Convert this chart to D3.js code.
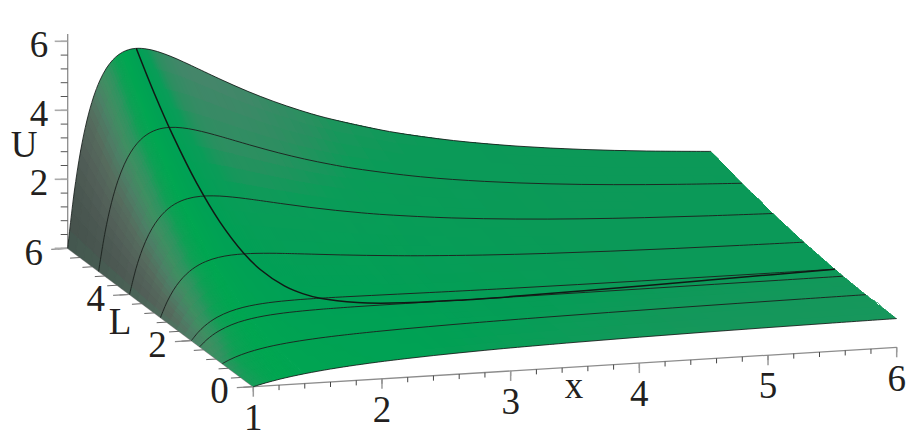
<!DOCTYPE html>
<html><head><meta charset="utf-8">
<style>html,body{margin:0;background:#fff}svg{display:block}text{font-family:"Liberation Serif",serif;fill:#231f20}</style>
<script src="https://cdn.jsdelivr.net/npm/d3@7"></script></head><body><div id="c"></div>
<script>
const xValues=[1,1.05,1.1,1.15,1.2,1.25,1.3,1.35,1.4,1.45,1.5,1.55,1.6,1.65,1.7,1.75,1.8,1.85,1.9,1.95,2,2.2,2.4,2.6,2.8,3,3.5,4,4.5,5,5.5,6];
const lValues=[0,1,1.732,2,3,4,5,6];
const uL0=[0,.048,.091,.13,.167,.2,.231,.259,.286,.31,.333,.355,.375,.394,.412,.429,.444,.459,.474,.487,.5,.545,.583,.615,.643,.667,.714,.75,.778,.8,.818,.833];
const uL1=[0,.091,.166,.229,.282,.328,.367,.402,.432,.458,.482,.503,.522,.539,.554,.569,.582,.594,.605,.615,.625,.658,.685,.706,.725,.741,.773,.797,.816,.832,.845,.857];
const uL173=[0,.177,.316,.426,.514,.584,.641,.686,.723,.753,.778,.798,.814,.828,.839,.848,.856,.862,.867,.872,.875,.884,.887,.889,.889,.889,.889,.891,.893,.896,.899,.903];
const uL2=[0,.22,.391,.525,.63,.712,.777,.828,.869,.901,.926,.946,.961,.973,.982,.988,.993,.997,.999,1,1,.996,.988,.98,.971,.963,.948,.938,.931,.928,.926,.926];
const uL3=[0,.436,.767,1.018,1.208,1.352,1.46,1.54,1.598,1.639,1.667,1.684,1.693,1.696,1.694,1.688,1.679,1.668,1.655,1.64,1.625,1.56,1.495,1.435,1.381,1.333,1.239,1.172,1.124,1.088,1.062,1.042];
const uL4=[0,.739,1.293,1.709,2.019,2.248,2.416,2.536,2.618,2.672,2.704,2.718,2.719,2.709,2.692,2.668,2.639,2.608,2.573,2.537,2.5,2.349,2.204,2.072,1.955,1.852,1.647,1.5,1.392,1.312,1.251,1.204];
const uL5=[0,1.127,1.969,2.596,3.06,3.4,3.645,3.816,3.93,4.001,4.037,4.047,4.037,4.011,3.974,3.927,3.874,3.816,3.754,3.69,3.625,3.363,3.115,2.891,2.693,2.519,2.172,1.922,1.738,1.6,1.495,1.412];
const uL6=[0,1.602,2.796,3.681,4.333,4.808,5.147,5.381,5.533,5.624,5.667,5.672,5.648,5.603,5.541,5.466,5.383,5.293,5.197,5.1,5,4.603,4.229,3.893,3.595,3.333,2.814,2.438,2.161,1.952,1.792,1.667];
const ridgeX=[1.5325,1.54,1.55,1.57,1.6,1.65,1.7,1.8,1.9,2,2.25,2.5,3,3.5,4,4.5,5,5.5,6];
const ridgeL=[6,5.445,4.9,4.196,3.578,3.013,2.688,2.324,2.124,2,1.837,1.768,1.732,1.75,1.789,1.837,1.89,1.945,2];
const ridgeU=[5.675,4.734,3.903,2.956,2.25,1.707,1.441,1.185,1.066,1,.926,.9,.889,.893,.9,.907,.914,.92,.926];
const xMajor=[1,2,3,4,5,6], lMajor=[0,2,4,6], uMajor=[0,2,4,6];
const xMinor=d3.range(1,6.01,.2), lMinor=d3.range(0,6.01,.4), uMinor=d3.range(0,6.01,.4);
const surface=[uL0,uL1,uL173,uL2,uL3,uL4,uL5,uL6];

const W=921,H=441;
const svg=d3.select("#c").append("svg").attr("width",W).attr("height",H);
const sxX=d3.scaleLinear().domain([1,6]).range([0,643.4]);
const syX=d3.scaleLinear().domain([1,6]).range([0,-39.4]);
const sxL=d3.scaleLinear().domain([0,6]).range([0,-185.6]);
const syL=d3.scaleLinear().domain([0,6]).range([0,-138.4]);
const syU=d3.scaleLinear().domain([0,6]).range([0,-207]);
const P=(x,l,u)=>[253.3+sxX(x)+sxL(l),386.7+syX(x)+syL(l)+syU(u)];

const shade=d3.scaleLinear()
 .domain([-.7,-.47,-.31,-.2,0,.15,.3,.45,.6,.8,1.0,1.2,1.47])
 .range(["#44866a","#44866a","#2b8f60","#0a9c58","#00a055","#00a651","#0fa055","#2f9460","#3f8f62","#4d7f66","#566c5e","#525f58","#434f4a"]);
const farShade=d3.scaleLinear().domain([2.4,4.5]).range([0,.85]).clamp(true);
const nx=xValues.length,nl=lValues.length;
const theta=[],slopeL=[];
for(let j=0;j<nl;j++){theta.push([]);slopeL.push([]);for(let i=0;i<nx;i++){
  const a=Math.max(0,i-1),b=Math.min(nx-1,i+1);
  const p=(surface[j][b]-surface[j][a])/(xValues[b]-xValues[a]);
  const c=Math.max(0,j-1),d=Math.min(nl-1,j+1);
  const q=(surface[d][i]-surface[c][i])/(lValues[d]-lValues[c]);
  const s=p>0?p*.27/(1+1.15*q):p*.27;
  theta[j].push(Math.atan(s)); slopeL[j].push(q);
}}
const bil=(m,j,i,s,t)=>(1-t)*((1-s)*m[j][i]+s*m[j][i+1])+t*((1-s)*m[j+1][i]+s*m[j+1][i+1]);
const flat=d3.scaleLinear().domain([0,.12]).range([.3,0]).clamp(true);
const tiles=[];const SX=3,SL=4;
for(let j=0;j<nl-1;j++)for(let i=0;i<nx-1;i++)for(let a=0;a<SX;a++)for(let b=0;b<SL;b++){
  const s0=a/SX,s1=(a+1)/SX,t0=b/SL,t1=(b+1)/SL;
  const pt=(s,t)=>P(xValues[i]+s*(xValues[i+1]-xValues[i]),lValues[j]+t*(lValues[j+1]-lValues[j]),bil(surface,j,i,s,t));
  const sm=(s0+s1)/2,tm=(t0+t1)/2;
  let col=shade(bil(theta,j,i,sm,tm));
  col=d3.interpolateRgb(col,"#0d9858")(farShade(xValues[i]+sm*(xValues[i+1]-xValues[i])));
  col=d3.interpolateRgb(col,"#3d8f68")(flat(bil(slopeL,j,i,sm,tm)));
  tiles.push({pts:[pt(s0,t0),pt(s1,t0),pt(s1,t1),pt(s0,t1)],col,steep:i<8});
}
const line=d3.line().curve(d3.curveCatmullRom.alpha(.5));
const poly=d3.line();
const outline=[...xValues.map((x,i)=>P(x,0,uL0[i])),...[...xValues].reverse().map(x=>P(x,6,uL6[xValues.indexOf(x)]))];
svg.append("clipPath").attr("id","clip").append("path").attr("d",poly(outline)+"Z");

const axes=svg.append("g").attr("fill","none");
const seg=(a,b,c,w)=>axes.append("line").attr("x1",a[0]).attr("y1",a[1]).attr("x2",b[0]).attr("y2",b[1]).attr("stroke",c).attr("stroke-width",w);
seg(P(1,6,0),[P(1,6,0)[0],34],"#8c8c8c",1.3);
seg(P(1,0,0),P(1,6,0),"#8c8c8c",1.2);
seg(P(1,0,0),P(6,0,0),"#8c8c8c",1.3);
xMinor.forEach(x=>{const p=P(x,0,0);seg(p,[p[0],p[1]+5],"#444",1)});
xMajor.forEach(x=>{const p=P(x,0,0);seg(p,[p[0],p[1]+10],"#9a9a9a",1.5)});
lMinor.forEach(l=>{const p=P(1,l,0);seg(p,[p[0]-10,p[1]+.6],"#666",1)});
lMajor.forEach(l=>{const p=P(1,l,0);seg(p,[p[0]-16.5,p[1]+1],"#8a8a8a",1.3)});
uMinor.forEach(u=>{const p=P(1,6,u);seg(p,[p[0]-7,p[1]],"#555",1)});
uMajor.forEach(u=>{const p=P(1,6,u);seg(p,[p[0]-13,p[1]],"#aaa",1.6)});

svg.append("g").attr("clip-path","url(#clip)").selectAll("path").data(tiles).join("path")
 .attr("shape-rendering",d=>d.steep?"auto":"crispEdges")
 .attr("d",d=>poly(d.pts)+"Z").attr("fill",d=>d.col).attr("stroke",d=>d.col).attr("stroke-width",d=>d.steep?1.2:.7);

const curves=svg.append("g").attr("fill","none");
surface.forEach((row,j)=>{
  curves.append("path").attr("d",line(xValues.map((x,i)=>P(x,lValues[j],row[i]))))
   .attr("stroke","#1c2420").attr("stroke-width",(j==0||j==nl-1)?.9:.95);
});
curves.append("path").attr("d",line(ridgeX.map((x,i)=>P(x,ridgeL[i],ridgeU[i]))))
   .attr("stroke","#111815").attr("stroke-width",1.5);

const fs=37;
const text=(s,x,y)=>svg.append("text").attr("x",x).attr("y",y+.338*fs).attr("text-anchor","middle").attr("font-size",fs).text(s);
xMajor.forEach(x=>{const p=P(x,0,0);text(String(x),p[0],p[1]+30.7)});
lMajor.forEach(l=>{const p=P(1,l,0);text(String(l),p[0]-33.9,p[1]+4)});
uMajor.slice(1).forEach(u=>{const p=P(1,6,u);text(String(u),p[0]-28.7,p[1]+3)});
svg.append("text").attr("x",574).attr("y",398).attr("text-anchor","middle").attr("font-size",fs).text("x");
svg.append("text").attr("x",120).attr("y",334).attr("text-anchor","middle").attr("font-size",fs).text("L");
svg.append("text").attr("x",24).attr("y",157).attr("text-anchor","middle").attr("font-size",fs).text("U");
</script></body></html>
